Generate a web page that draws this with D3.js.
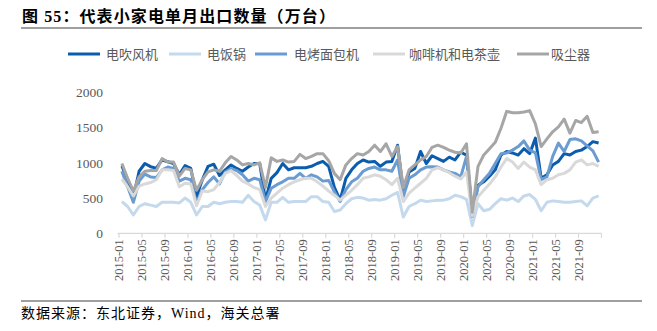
<!DOCTYPE html>
<html><head><meta charset="utf-8">
<script src="https://cdn.jsdelivr.net/npm/d3@7"></script>
<style>
html,body{margin:0;padding:0;background:#fff;}
svg{display:block;}
</style></head><body>
<svg id="chart" width="657" height="331"></svg>
<script>
// ---------- data ----------
const years = [2015, 2016, 2017, 2018, 2019, 2020, 2021];
const monthNums = ["01","02","03","04","05","06","07","08","09","10","11","12"];
const categories = years.flatMap(y => monthNums.map(m => y + "-" + m));
const tickLabels = ["2015-01","2015-05","2015-09","2016-01","2016-05","2016-09","2017-01","2017-05","2017-09",
  "2018-01","2018-05","2018-09","2019-01","2019-05","2019-09","2020-01","2020-05","2020-09","2021-01","2021-05","2021-09"];
const yTicks = [0, 500, 1000, 1500, 2000];

const seriesNames = ["电吹风机", "电饭锅", "电烤面包机", "咖啡机和电茶壶", "吸尘器"];

const hairDryer = [
  955, 760, 510, 880, 990, 945, 925, 1040, 1015, 990, 830, 960,
  920, 520, 760, 950, 980, 820, 900, 970, 920, 880, 940, 990,
  990, 470, 780, 860, 990, 900, 930, 930, 930, 950, 990, 1020,
  950, 650, 470, 780, 900, 990, 1040, 1010, 1020, 950, 1010, 1020,
  1250, 590, 870, 920, 1160, 990, 1100, 1060, 1020, 1080, 1040, 1150,
  1110, 310, 680, 730, 810, 900, 1110, 1160, 1140, 1110, 1200, 1130,
  1350, 780, 830, 970, 1020, 1130, 1110, 1160, 1180, 1230, 1300, 1280];

const riceCooker = [
  450, 380, 260, 380, 420, 400, 380, 440, 440, 440, 430, 500,
  440, 260, 380, 380, 440, 420, 440, 450, 450, 440, 540, 450,
  400, 190, 440, 440, 510, 440, 450, 450, 450, 520, 520, 450,
  440, 310, 330, 420, 490, 510, 500, 470, 480, 470, 490, 540,
  580, 230, 380, 420, 470, 450, 460, 470, 470, 490, 540, 520,
  480, 110, 420, 320, 340, 420, 490, 470, 500, 450, 530, 550,
  480, 320, 440, 460, 450, 440, 440, 450, 460, 390, 500, 530];

const toaster = [
  880, 660, 440, 740, 840, 800, 790, 900, 940, 920, 740, 780,
  760, 430, 620, 720, 800, 700, 870, 920, 890, 830, 740, 780,
  760, 450, 640, 690, 730, 780, 780, 850, 780, 830, 800, 740,
  750, 590, 450, 620, 730, 780, 880, 920, 940, 900, 900, 880,
  1040, 520, 780, 830, 900, 940, 945, 940, 900, 870, 850, 800,
  1090, 240, 660, 760, 850, 990, 1130, 1140, 1180, 1230, 1310, 1180,
  1140, 760, 800, 1090, 1280, 1160, 1330, 1340, 1310, 1240, 1170, 1010];

const coffeeKettle = [
  770, 660, 530, 670, 700, 720, 760, 900, 900, 890, 660, 710,
  700, 390, 600, 590, 620, 720, 850, 890, 820, 740, 700, 650,
  620, 380, 500, 570, 640, 690, 730, 760, 780, 780, 730, 670,
  600, 540, 470, 540, 610, 690, 780, 800, 830, 810, 760, 690,
  780, 450, 570, 640, 710, 780, 900, 930, 900, 860, 810, 770,
  870, 250, 520, 610, 700, 800, 940, 1060, 1010, 920, 1010, 940,
  900, 690, 760, 780, 830, 850, 900, 1010, 1040, 970, 990, 950];

const vacuum = [
  990, 780, 600, 800, 880, 890, 890, 1060, 1010, 1010, 810, 920,
  900, 610, 760, 870, 900, 880, 1000, 1090, 1040, 970, 990, 970,
  1000, 650, 1070, 1020, 1040, 1010, 1020, 1120, 1060, 1090, 1130, 1130,
  1030, 850, 760, 970, 1060, 1130, 1110, 1160, 1250, 1160, 1270, 1090,
  1230, 650, 900, 970, 1040, 1090, 1220, 1250, 1220, 1180, 1150, 1140,
  1270, 300, 950, 1110, 1200, 1290, 1490, 1730, 1710, 1710, 1720, 1740,
  1550, 1230, 1340, 1440, 1510, 1620, 1420, 1600, 1570, 1660, 1430, 1440];

const seriesValues = [hairDryer, riceCooker, toaster, coffeeKettle, vacuum];
const seriesColors = ["#0b5cad", "#c5d9ed", "#6a9bd1", "#d9d9d9", "#a6a6a6"];

// ---------- drawing ----------
const svg = d3.select("#chart");
const serif = "'Liberation Serif','Times New Roman',serif";
const cjk = "'Noto Sans CJK SC','Noto Sans',sans-serif";

// title
svg.append("text")
  .attr("x", 22).attr("y", 22)
  .attr("font-family", serif + "," + cjk)
  .attr("font-weight", "bold")
  .attr("font-size", 16)
  .attr("letter-spacing", 1.1)
  .attr("fill", "#000")
  .text("图 55：代表小家电单月出口数量（万台）");
svg.append("line").attr("x1", 21).attr("x2", 642).attr("y1", 28).attr("y2", 28)
  .attr("stroke", "#7f7f7f").attr("stroke-width", 1.3);

// scales
const x = d3.scaleBand().domain(categories).range([119, 601.5]).padding(0);
const y = d3.scaleLinear().domain([0, 2000]).range([233.3, 92.3]);
const bw = x.bandwidth();

// y labels
svg.append("g").selectAll("text").data(yTicks).join("text")
  .attr("x", 103).attr("y", d => y(d)).attr("dy", "0.35em")
  .attr("text-anchor", "end")
  .attr("font-family", serif).attr("font-size", 13.5).attr("fill", "#595959")
  .text(d => d);

// x axis line & ticks
const axisG = svg.append("g");
axisG.append("line").attr("x1", 117.5).attr("x2", 601.5)
  .attr("y1", y(0)).attr("y2", y(0)).attr("stroke", "#d9d9d9").attr("stroke-width", 1.3);
const tickIdx = d3.range(0, categories.length + 1, 4);
axisG.selectAll("line.tick").data(tickIdx).join("line").attr("class", "tick")
  .attr("x1", i => i < categories.length ? x(categories[i]) : x.range()[1])
  .attr("x2", i => i < categories.length ? x(categories[i]) : x.range()[1])
  .attr("y1", y(0)).attr("y2", y(0) + 4.5)
  .attr("stroke", "#d9d9d9").attr("stroke-width", 1.2);
axisG.selectAll("text").data(tickLabels).join("text")
  .attr("transform", d => `translate(${x(d)},${y(0) + 6}) rotate(-90)`)
  .attr("dy", "0.35em")
  .attr("text-anchor", "end")
  .attr("font-family", serif).attr("font-size", 12.5).attr("fill", "#595959")
  .text(d => d);

// lines
const line = d3.line()
  .x((d, i) => x(categories[i]) + bw / 2)
  .y(d => y(d));
svg.append("g").selectAll("path").data(seriesValues).join("path")
  .attr("d", d => line(d))
  .attr("fill", "none")
  .attr("stroke", (d, i) => seriesColors[i])
  .attr("stroke-width", 3)
  .attr("stroke-linejoin", "round");

// legend
const legendPos = [
  {lx: 68, tx: 105}, {lx: 169, tx: 206}, {lx: 255, tx: 293}, {lx: 373, tx: 408}, {lx: 517, tx: 550}
];
const lg = svg.append("g");
seriesNames.forEach((name, i) => {
  const p = legendPos[i];
  lg.append("line").attr("x1", p.lx).attr("x2", p.lx + 32).attr("y1", 54).attr("y2", 54)
    .attr("stroke", seriesColors[i]).attr("stroke-width", 3);
  lg.append("text").attr("x", p.tx + 1).attr("y", 54).attr("dy", "0.36em")
    .attr("font-family", cjk).attr("font-size", 13).attr("fill", "#595959")
    .text(name);
});

// footer
svg.append("line").attr("x1", 21).attr("x2", 642).attr("y1", 301).attr("y2", 301)
  .attr("stroke", "#7f7f7f").attr("stroke-width", 1.3);
svg.append("text").attr("x", 21).attr("y", 318)
  .attr("font-family", serif + "," + cjk).attr("font-size", 14).attr("letter-spacing", 1)
  .attr("fill", "#000")
  .text("数据来源：东北证券，Wind，海关总署");
</script>
</body></html>
